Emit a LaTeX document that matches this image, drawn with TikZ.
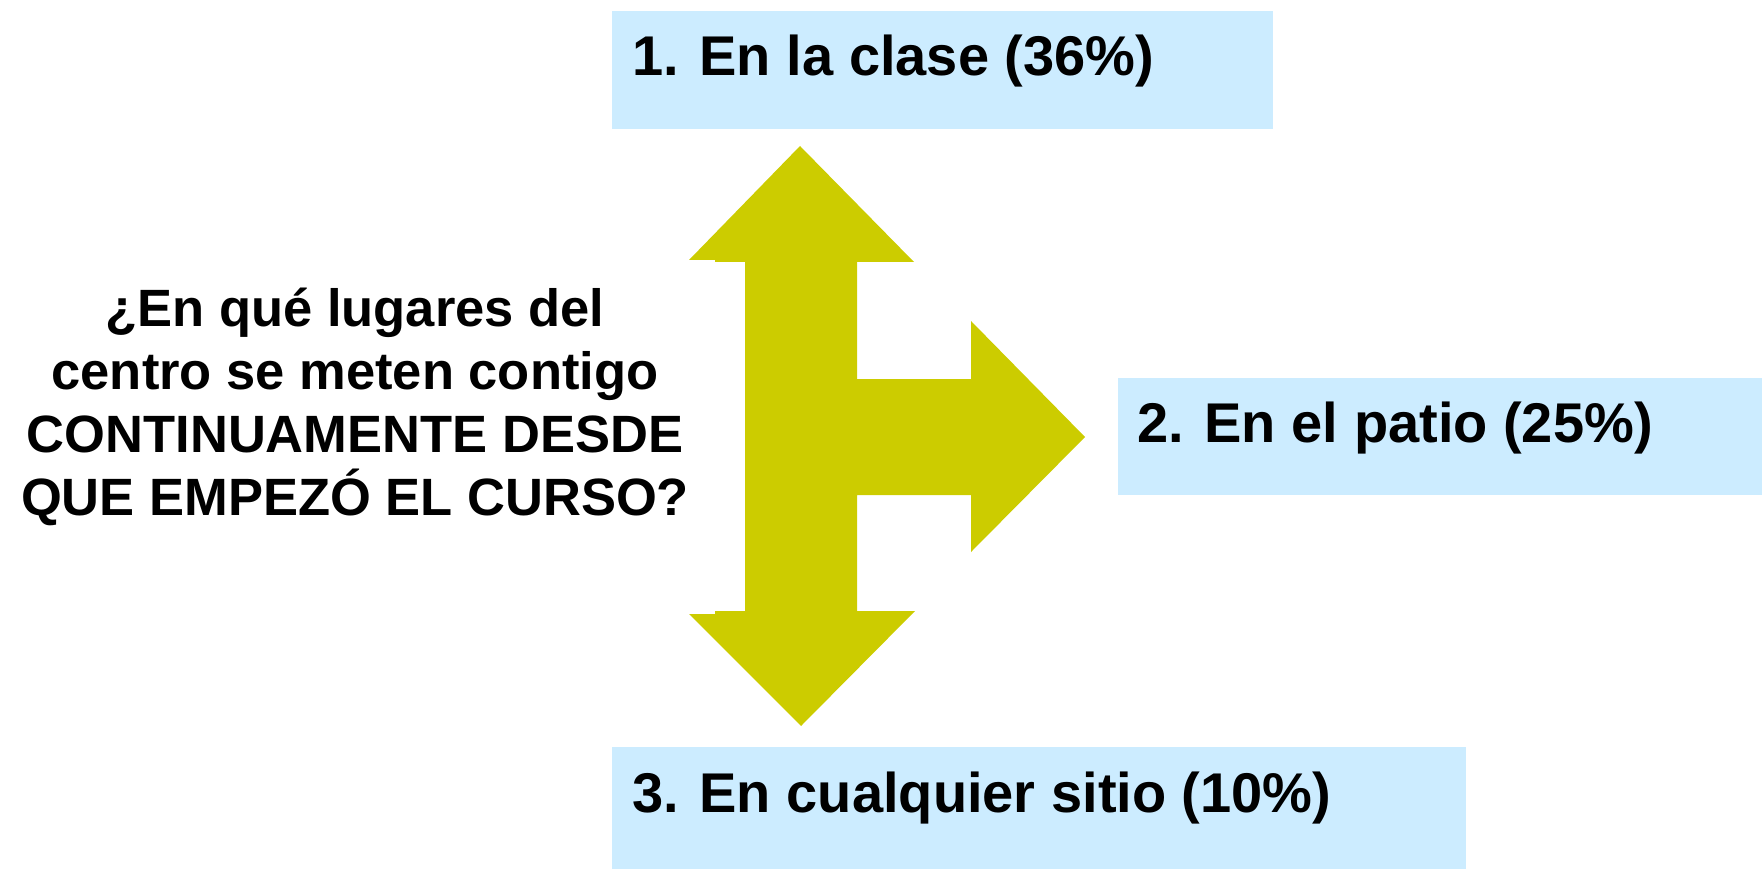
\documentclass[tikz,border=0pt]{standalone}
\usepackage{fontspec}
\setmainfont{Liberation Sans}
\definecolor{arrowcol}{RGB}{204,204,0}
\definecolor{boxcol}{RGB}{204,236,255}
\tikzset{
  answerbox/.style={fill=boxcol, draw=none, anchor=north west, inner sep=0pt},
  answertext/.style={anchor=base west, inner sep=0pt, font=\fontsize{56}{67}\selectfont\bfseries},
  questiontext/.style={anchor=base, inner sep=0pt, font=\fontsize{52.5}{63}\selectfont\bfseries},
}
\begin{document}
\begin{tikzpicture}[x=1pt,y=-1pt]
\useasboundingbox (0,0) rectangle (1762,869);
% answer boxes
\node[answerbox, minimum width=661pt, minimum height=118pt] (b1) at (612,11) {};
\node[answerbox, minimum width=644pt, minimum height=117pt] (b2) at (1118,378) {};
\node[answerbox, minimum width=854pt, minimum height=122pt] (b3) at (612,747) {};
\node[answertext] (t1) at (632,76) {1. En la clase (36\%)};
\node[answertext] (t2) at (1137,442) {2. En el patio (25\%)};
\node[answertext] (t3) at (632,812) {3. En cualquier sitio (10\%)};
% question
\node[questiontext] (q1) at (355,326) {¿En qué lugares del};
\node[questiontext] (q2) at (355,389) {centro se meten contigo};
\node[questiontext] (q3) at (355,452) {CONTINUAMENTE DESDE};
\node[questiontext] (q4) at (355,515) {QUE EMPEZÓ EL CURSO?};
% three-way arrow
\fill[arrowcol] (800,146) -- (914,262) -- (857,262) -- (857,379) -- (971,379) -- (971,321)
  -- (1085,437) -- (971,552) -- (971,495) -- (857,495) -- (857,611) -- (915,611)
  -- (801,726) -- (689,614) -- (715,614) -- (715,611) -- (745,611) -- (745,262)
  -- (715,262) -- (715,260) -- (689,260) -- cycle;
\end{tikzpicture}
\end{document}
